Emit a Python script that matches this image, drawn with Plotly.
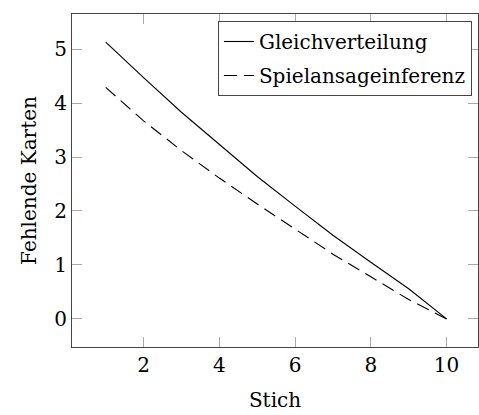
import plotly.graph_objects as go

# Stich (trick number) on the x axis
stich = [1, 2, 3, 4, 5, 6, 7, 8, 9, 10]

# Missing cards per trick for the two strategies
gleichverteilung = [5.13, 4.47, 3.83, 3.23, 2.64, 2.09, 1.55, 1.05, 0.56, 0.0]
spielansageinferenz = [4.29, 3.67, 3.12, 2.61, 2.13, 1.66, 1.20, 0.78, 0.36, 0.0]

x_ticks = [2, 4, 6, 8, 10]
y_ticks = [0, 1, 2, 3, 4, 5]

FONT = "DejaVu Serif"
SIZE = 20

fig = go.Figure()
fig.add_trace(go.Scatter(
    x=stich, y=gleichverteilung, mode="lines", name="Gleichverteilung",
    legendgroup="a",
    line=dict(color="black", width=1.1),
))
fig.add_trace(go.Scatter(
    x=stich, y=spielansageinferenz, mode="lines", name="Spielansageinferenz",
    legendgroup="b",
    line=dict(color="black", width=1.1, dash="13px,7px"),
))

axis_common = dict(
    showline=True, linecolor="#444444", linewidth=1.2, mirror="ticks",
    ticks="inside", ticklen=10, tickcolor="#aaaaaa", tickwidth=1,
    showgrid=False, zeroline=False,
    tickfont=dict(family=FONT, size=SIZE, color="black"),
)

fig.update_xaxes(
    range=[0.11, 10.83], tickvals=x_ticks,
    title=dict(text="Stich", font=dict(family=FONT, size=SIZE, color="black"), standoff=16),
    **axis_common,
)
fig.update_yaxes(
    range=[-0.52, 5.65], tickvals=y_ticks,
    title=dict(text="Fehlende Karten", font=dict(family=FONT, size=SIZE, color="black"), standoff=12),
    **axis_common,
)

fig.update_layout(
    width=479, height=415,
    margin=dict(l=72, r=1, t=14, b=68),
    paper_bgcolor="white", plot_bgcolor="white",
    font=dict(family=FONT, size=SIZE, color="black"),
    legend=dict(
        x=0.985, y=0.979, xanchor="right", yanchor="top",
        bgcolor="white", bordercolor="#444444", borderwidth=1,
        font=dict(family=FONT, size=SIZE, color="black"),
        tracegroupgap=5, itemwidth=30,
    ),
)

fig.write_html("out.html")
